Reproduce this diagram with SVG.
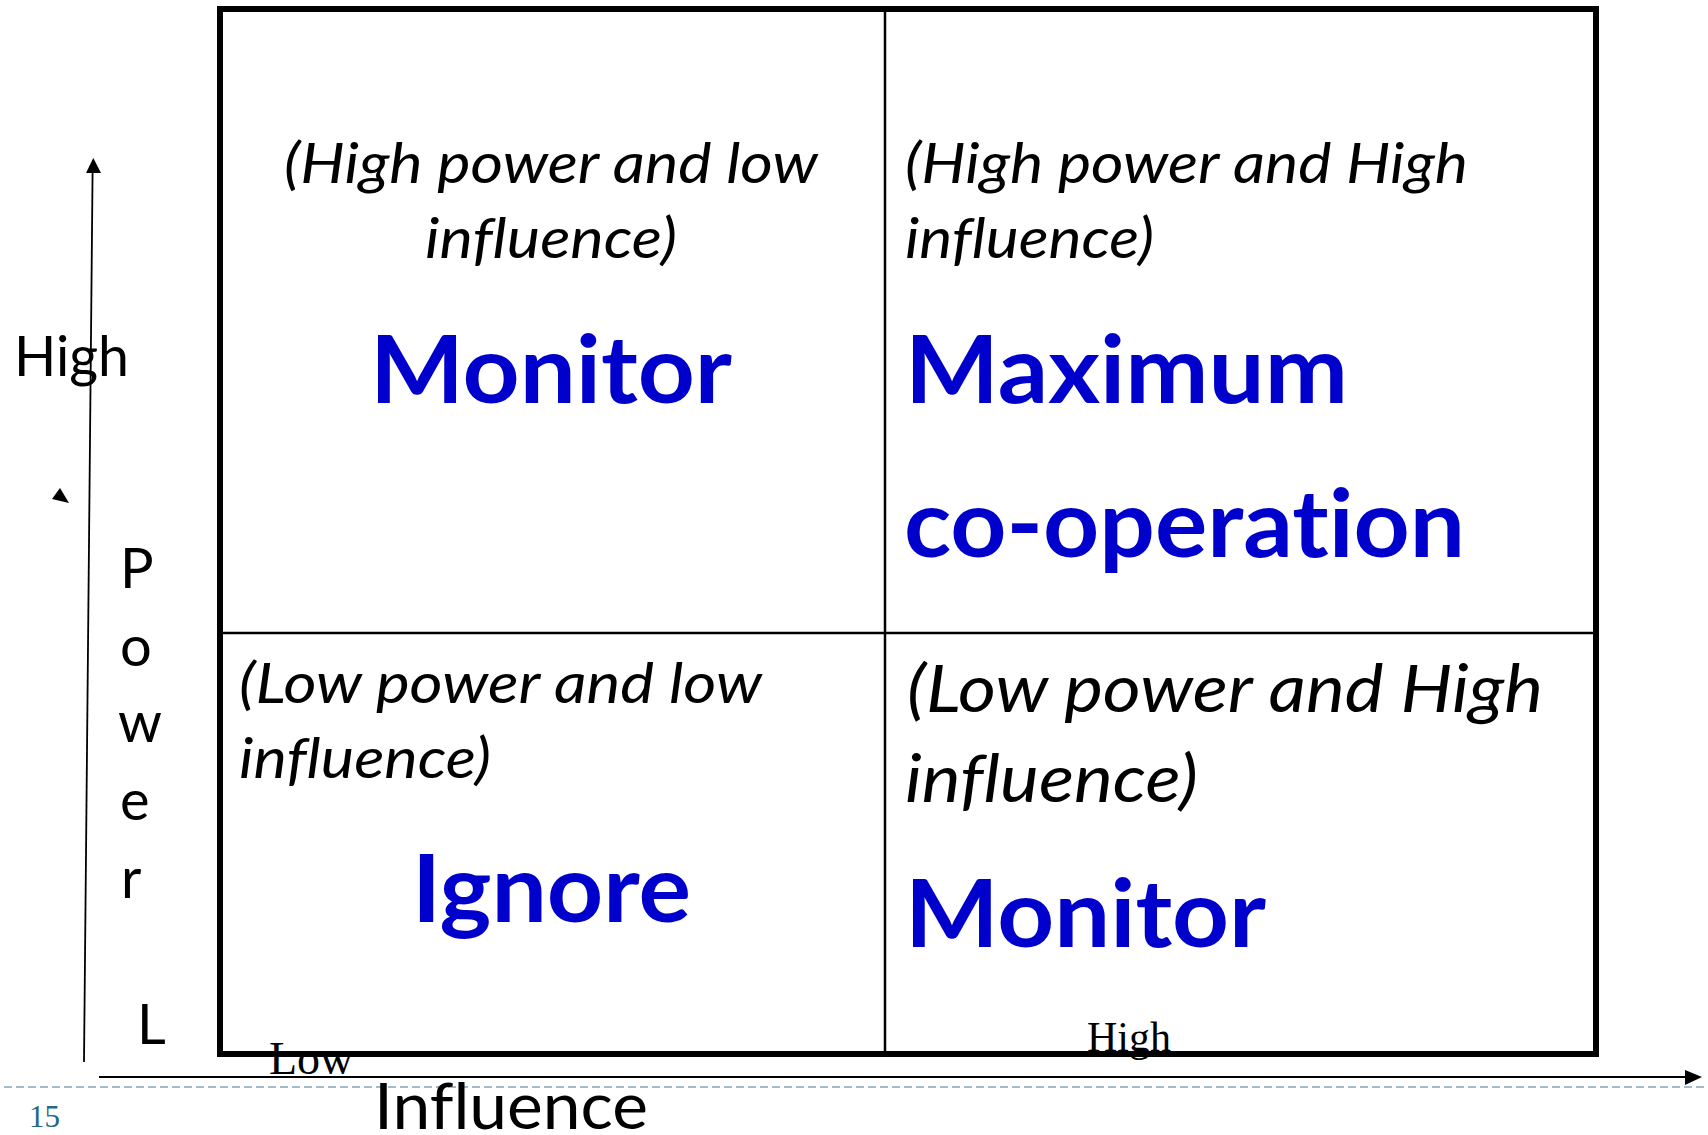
<svg xmlns="http://www.w3.org/2000/svg" width="1708" height="1135" viewBox="0 0 1708 1135">
<style>
text{font-variant-ligatures:none;font-feature-settings:"liga" 0,"dlig" 0}
.it{font-family:Lato,"Open Sans","DejaVu Sans",sans-serif;font-style:italic;font-size:57px;fill:#000}
.itb{font-size:66px}
.bd{font-family:Lato,"Open Sans","DejaVu Sans",sans-serif;font-weight:bold;font-size:94px;fill:#0000CC}
.ax{font-family:Lato,"Open Sans","DejaVu Sans",sans-serif;font-size:56px;fill:#000}
.sr{font-family:"Liberation Serif","Times New Roman",serif;fill:#000}
.ln{stroke:#000;fill:none}
</style>
<rect width="1708" height="1135" fill="#fff"/>
<line x1="4" y1="1087" x2="1708" y2="1087" stroke="#A3B9CC" stroke-width="2" stroke-dasharray="8 4"/>
<g id="matrix">
<rect x="220" y="9" width="1376" height="1045" class="ln" stroke-width="6"/>
<line x1="885" y1="9" x2="885" y2="1054" class="ln" stroke-width="2.5"/>
<line x1="220" y1="633" x2="1596" y2="633" class="ln" stroke-width="2.5"/>
</g>
<g id="q-high-low">
<text class="it" x="284" y="183" textLength="534" lengthAdjust="spacingAndGlyphs">(High power and low</text>
<text class="it" x="425" y="258" textLength="252" lengthAdjust="spacingAndGlyphs">influence)</text>
<text class="bd" x="370" y="403" textLength="362" lengthAdjust="spacingAndGlyphs">Monitor</text>
</g>
<g id="q-high-high">
<text class="it" x="905" y="183" textLength="563" lengthAdjust="spacingAndGlyphs">(High power and High</text>
<text class="it" x="905" y="258" textLength="249" lengthAdjust="spacingAndGlyphs">influence)</text>
<text class="bd" x="905" y="403" textLength="443" lengthAdjust="spacingAndGlyphs">Maximum</text>
<text class="bd" x="904" y="557" textLength="561" lengthAdjust="spacingAndGlyphs">co-operation</text>
</g>
<g id="q-low-low">
<text class="it" x="239" y="703" textLength="523" lengthAdjust="spacingAndGlyphs">(Low power and low</text>
<text class="it" x="239" y="778" textLength="252" lengthAdjust="spacingAndGlyphs">influence)</text>
<text class="bd" x="412" y="922" textLength="279" lengthAdjust="spacingAndGlyphs">Ignore</text>
</g>
<g id="q-low-high">
<text class="it itb" x="907" y="712" textLength="636" lengthAdjust="spacingAndGlyphs">(Low power and High</text>
<text class="it itb" x="905" y="802" textLength="293" lengthAdjust="spacingAndGlyphs">influence)</text>
<text class="bd" x="905" y="947" textLength="361" lengthAdjust="spacingAndGlyphs">Monitor</text>
</g>
<g id="connectors">
<line x1="84" y1="1062" x2="92.6" y2="170" class="ln" stroke-width="1.8"/>
<polygon points="93.3,158 86,173 101,173" fill="#000"/>
<polygon points="60,488 52,499 69,503" fill="#000"/>
<line x1="99" y1="1077" x2="1688" y2="1077" class="ln" stroke-width="2"/>
<polygon points="1702,1077 1685,1070 1685,1085" fill="#000"/>
</g>
<g id="axis-labels">
<text class="ax" x="14" y="376" textLength="115" lengthAdjust="spacingAndGlyphs">High</text>
<text class="ax" x="120" y="588">P</text>
<text class="ax" x="120" y="666">o</text>
<text class="ax" x="118" y="742">w</text>
<text class="ax" x="120" y="820">e</text>
<text class="ax" x="121" y="898">r</text>
<text class="ax" x="137" y="1044">L</text>
<text class="ax" x="374" y="1129" style="font-size:64px" textLength="274" lengthAdjust="spacingAndGlyphs">Influence</text>
<text class="sr" x="269" y="1074" style="font-size:46px">Low</text>
<text class="sr" x="1087" y="1051" style="font-size:42px">High</text>
<text class="sr" x="29" y="1127" style="font-size:31px;fill:#246A87">15</text>
</g>
</svg>
